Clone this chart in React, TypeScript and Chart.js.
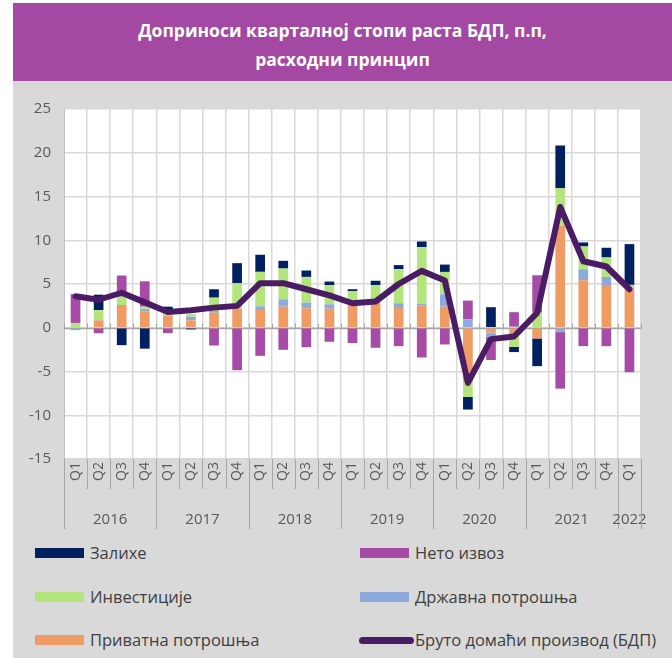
import React, { useEffect, useRef } from 'react';
import { Chart, registerables } from 'chart.js';

Chart.register(...registerables);

const quarters = [
  'Q1', 'Q2', 'Q3', 'Q4',
  'Q1', 'Q2', 'Q3', 'Q4',
  'Q1', 'Q2', 'Q3', 'Q4',
  'Q1', 'Q2', 'Q3', 'Q4',
  'Q1', 'Q2', 'Q3', 'Q4',
  'Q1', 'Q2', 'Q3', 'Q4',
  'Q1',
];
const years = ['2016', '2017', '2018', '2019', '2020', '2021', '2022'];
const quartersPerYear = [4, 4, 4, 4, 4, 4, 1];

// Приватна потрошња
const privateCons = [
  0, 0.84, 2.6, 1.83,
  1.41, 0.84, 1.72, 2.22,
  2.03, 2.41, 2.22, 2.18,
  2.5, 2.87, 2.26, 2.56,
  2.41, -6.2, -0.55, -0.96,
  -1.22, 11.66, 5.43, 4.78,
  4.4,
];
// Државна потрошња
const govCons = [
  -0.27, 0.08, 0, 0.3,
  0, 0.42, 0.19, 0.08,
  0.42, 0.84, 0.65, 0.5,
  0.1, 0.05, 0.54, 0.15,
  1.41, 0.96, -0.46, 0.12,
  0, -0.5, 1.26, 1.03,
  0.2,
];
// Инвестиције
const investment = [
  0.55, 1.1, 0.95, 0.28,
  0.5, 0.3, 1.53, 2.79,
  3.94, 3.52, 2.94, 2.18,
  1.6, 1.95, 3.9, 6.5,
  2.56, -1.7, 0, -1.22,
  1.72, 4.28, 2.6, 2.22,
  0.3,
];
// Нето извоз
const netExports = [
  3.29, -0.63, 2.42, 2.9,
  -0.62, 0, -2.03, -4.85,
  -3.21, -2.52, -2.22, -1.6,
  -1.75, -2.29, -2.1, -3.4,
  -1.91, 2.14, -2.68, 1.66,
  4.28, -6.46, -2.1, -2.1,
  -5.08,
];
// Залихе
const inventories = [
  0, 1.76, -1.99, -2.39,
  0.5, -0.19, 0.96, 2.29,
  1.95, 0.88, 0.73, 0.42,
  0.2, 0.5, 0.46, 0.65,
  0.84, -1.45, 2.35, -0.6,
  -3.17, 4.89, 0.46, 1.11,
  4.66,
];
// Бруто домаћи производ (БДП)
const gdp = [
  3.6, 3.2, 4.0, 2.9,
  1.8, 2.0, 2.3, 2.5,
  5.1, 5.1, 4.4, 3.7,
  2.8, 3.0, 5.0, 6.5,
  5.4, -6.3, -1.3, -1.0,
  1.7, 13.8, 7.6, 7.0,
  4.4,
];

const C_INV = '#002060';
const C_NX = '#a64ca6';
const C_INVEST = '#b4e47c';
const C_GOV = '#8eaadc';
const C_PRIV = '#ef9b64';
const C_GDP = '#4a1c64';
const FONT = '"Open Sans", "Noto Sans", sans-serif';
const TEXT = '#595959';

const excelAxisPlugin = {
  id: 'excelAxis',
  beforeDraw(chart: any) {
    const { ctx, chartArea: a } = chart;
    ctx.save();
    ctx.fillStyle = '#ffffff';
    ctx.fillRect(a.left, a.top, a.right - a.left, a.bottom - a.top);
    ctx.restore();
  },
  beforeDatasetsDraw(chart: any) {
    const { ctx, chartArea: a, scales } = chart;
    const x = scales.x;
    const y0 = Math.round(scales.y.getPixelForValue(0)) + 0.5;
    ctx.save();
    ctx.strokeStyle = '#a6a6a6';
    ctx.lineWidth = 1.5;
    ctx.beginPath();
    ctx.moveTo(a.left, y0);
    ctx.lineTo(a.right, y0);
    ctx.stroke();
    const band = x.getPixelForValue(1) - x.getPixelForValue(0);
    ctx.lineWidth = 1;
    for (let i = 0; i <= quarters.length; i++) {
      const px = Math.round(x.getPixelForValue(0) - band / 2 + i * band) + 0.5;
      ctx.beginPath();
      ctx.moveTo(px, y0 - 5);
      ctx.lineTo(px, y0);
      ctx.stroke();
    }
    ctx.restore();
  },
  afterDraw(chart: any) {
    const { ctx, chartArea: a, scales } = chart;
    const x = scales.x;
    const band = x.getPixelForValue(1) - x.getPixelForValue(0);
    const left0 = x.getPixelForValue(0) - band / 2;
    ctx.save();
    ctx.strokeStyle = '#a6a6a6';
    ctx.lineWidth = 1;
    for (let i = 0; i <= quarters.length; i++) {
      const px = Math.round(left0 + i * band) + 0.5;
      ctx.beginPath();
      ctx.moveTo(px, a.bottom);
      ctx.lineTo(px, a.bottom + 30);
      ctx.stroke();
    }
    let idx = 0;
    ctx.fillStyle = TEXT;
    ctx.font = `15px ${FONT}`;
    ctx.textAlign = 'center';
    ctx.textBaseline = 'middle';
    for (let k = 0; k < years.length; k++) {
      const start = idx;
      const end = idx + quartersPerYear[k];
      const lx = left0 + start * band;
      const rx = left0 + end * band;
      const sx = Math.round(lx) + 0.5;
      ctx.beginPath();
      ctx.moveTo(sx, a.bottom);
      ctx.lineTo(sx, a.bottom + 70);
      ctx.stroke();
      ctx.fillText(years[k], (lx + rx) / 2, a.bottom + 61);
      idx = end;
    }
    const ex = Math.round(left0 + idx * band) + 0.5;
    ctx.beginPath();
    ctx.moveTo(ex, a.bottom);
    ctx.lineTo(ex, a.bottom + 70);
    ctx.stroke();
    ctx.restore();
  },
};

function ChartCanvas() {
  const ref = useRef<HTMLCanvasElement | null>(null);
  useEffect(() => {
    if (!ref.current) return;
    const barCommon = {
      type: 'bar' as const,
      categoryPercentage: 1,
      barPercentage: 0.42,
      borderWidth: 0,
      order: 1,
    };
    const chart = new Chart(ref.current, {
      type: 'bar',
      data: {
        labels: quarters,
        datasets: [
          { ...barCommon, label: 'Приватна потрошња', data: privateCons, backgroundColor: C_PRIV },
          { ...barCommon, label: 'Државна потрошња', data: govCons, backgroundColor: C_GOV },
          { ...barCommon, label: 'Инвестиције', data: investment, backgroundColor: C_INVEST },
          { ...barCommon, label: 'Нето извоз', data: netExports, backgroundColor: C_NX },
          { ...barCommon, label: 'Залихе', data: inventories, backgroundColor: C_INV },
          {
            type: 'line' as const,
            label: 'Бруто домаћи производ (БДП)',
            data: gdp,
            borderColor: C_GDP,
            backgroundColor: C_GDP,
            borderWidth: 6,
            pointRadius: 0,
            tension: 0,
            borderJoinStyle: 'round',
            borderCapStyle: 'round',
            stack: 'gdp',
            order: 0,
          } as any,
        ],
      },
      options: {
        animation: false,
        responsive: false,
        maintainAspectRatio: false,
        layout: { padding: { left: 0, top: 28, right: 31, bottom: 0 } },
        plugins: {
          legend: { display: false },
          tooltip: { enabled: false },
          title: { display: false },
        },
        scales: {
          x: {
            stacked: true,
            offset: true,
            grid: { color: '#d9d9d9', lineWidth: 1.5, offset: true, drawTicks: false },
            border: { color: '#d9d9d9', width: 1.5 },
            ticks: {
              autoSkip: false,
              minRotation: 90,
              maxRotation: 90,
              padding: 3,
              color: TEXT,
              font: { family: FONT, size: 14 },
            },
            afterFit(scale: any) {
              scale.height = 82;
            },
          },
          y: {
            stacked: true,
            min: -15,
            max: 25,
            ticks: {
              stepSize: 5,
              padding: 13,
              color: TEXT,
              font: { family: FONT, size: 15 },
            },
            grid: { color: '#d9d9d9', lineWidth: 1.5, drawTicks: false },
            border: { color: '#bfbfbf', width: 1 },
            afterFit(scale: any) {
              scale.width = 51;
            },
          },
        },
      },
      plugins: [excelAxisPlugin],
    });
    return () => chart.destroy();
  }, []);
  return <canvas ref={ref} width={659} height={460} style={{ display: 'block', width: 659, height: 460 }} />;
}

const legendItems = [
  { label: 'Залихе', color: C_INV, kind: 'box', col: 0, row: 0 },
  { label: 'Нето извоз', color: C_NX, kind: 'box', col: 1, row: 0 },
  { label: 'Инвестиције', color: C_INVEST, kind: 'box', col: 0, row: 1 },
  { label: 'Државна потрошња', color: C_GOV, kind: 'box', col: 1, row: 1 },
  { label: 'Приватна потрошња', color: C_PRIV, kind: 'box', col: 0, row: 2 },
  { label: 'Бруто домаћи производ (БДП)', color: C_GDP, kind: 'line', col: 1, row: 2 },
];

export default function App() {
  const rowY = [553, 597, 640];
  const colBoxX = [35, 360];
  return (
    <div style={{ position: 'absolute', left: 0, top: 0, width: 672, height: 658, background: '#ffffff', overflow: 'hidden', fontFamily: FONT }}>
      <div style={{ position: 'absolute', left: 13, top: 3, width: 659, height: 655, background: '#d9d9d9' }} />
      <div
        style={{
          position: 'absolute', left: 13, top: 3, width: 659, height: 78, background: '#a349a4',
          color: '#ffffff', fontWeight: 700, fontSize: 17.5, lineHeight: '29px', textAlign: 'center',
          paddingTop: 13, boxSizing: 'border-box',
        }}
      >
        <div>Доприноси кварталној стопи раста БДП, п.п,</div>
        <div>расходни принцип</div>
      </div>
      <div style={{ position: 'absolute', left: 13, top: 81 }}>
        <ChartCanvas />
      </div>
      {legendItems.map((it) => {
        const y = rowY[it.row];
        const bx = colBoxX[it.col];
        return (
          <React.Fragment key={it.label}>
            {it.kind === 'box' ? (
              <div style={{ position: 'absolute', left: bx, top: y - 5, width: 49, height: 10, background: it.color }} />
            ) : (
              <div style={{ position: 'absolute', left: bx - 1, top: y - 3, width: 55, height: 7, borderRadius: 4, background: it.color }} />
            )}
            <div
              style={{
                position: 'absolute', left: bx + 55, top: y - 11, height: 22, lineHeight: '22px',
                fontSize: 16.5, color: '#404040', whiteSpace: 'nowrap',
              }}
            >
              {it.label}
            </div>
          </React.Fragment>
        );
      })}
    </div>
  );
}
